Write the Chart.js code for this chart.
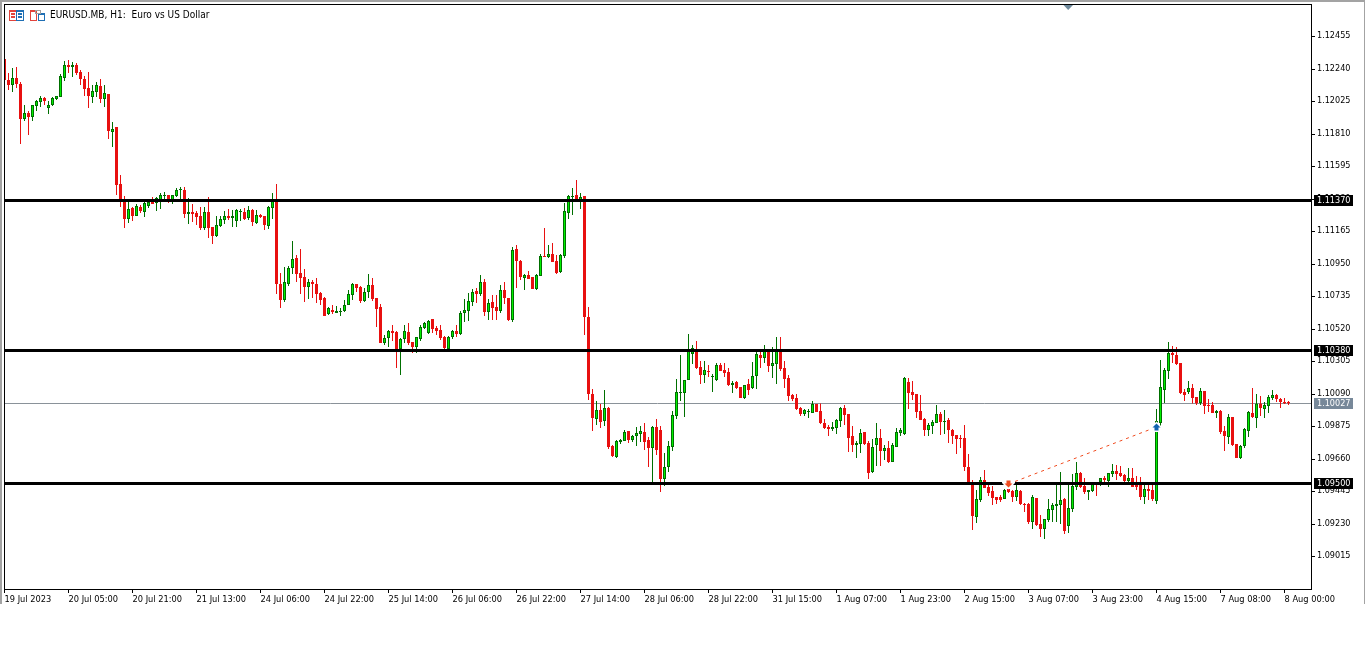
<!DOCTYPE html>
<html>
<head>
<meta charset="utf-8">
<title>EURUSD.MB, H1</title>
<script src="https://cdn.jsdelivr.net/npm/chart.js@4"></script>
<style>
  html, body { margin: 0; padding: 0; background: #fff; }
  canvas { display: block; }
</style>
</head>
<body>
<canvas id="graph" width="1365" height="672"></canvas>
<script>
// hourly bars
const open = [
  1.12303,1.12164,1.12133,1.12177,1.12137,1.11908,1.11946,1.11921,1.11994,1.12020,
  1.12045,1.11981,1.12001,1.12036,1.12054,1.12179,1.12263,1.12252,1.12263,1.12217,
  1.12170,1.12111,1.12054,1.12087,1.12124,1.12040,1.12071,1.11822,1.11853,1.11476,
  1.11370,1.11247,1.11317,1.11266,1.11326,1.11293,1.11330,1.11370,1.11348,1.11370,
  1.11394,1.11401,1.11370,1.11399,1.11434,1.11436,1.11280,1.11291,1.11282,1.11264,
  1.11187,1.11291,1.11189,1.11132,1.11200,1.11238,1.11264,1.11253,1.11233,1.11293,
  1.11291,1.11251,1.11304,1.11220,1.11271,1.11262,1.11198,1.11319,1.11359,1.10818,
  1.10710,1.10814,1.10922,1.10984,1.10887,1.10858,1.10796,1.10827,1.10814,1.10754,
  1.10721,1.10613,1.10642,1.10624,1.10631,1.10635,1.10677,1.10743,1.10814,1.10794,
  1.10701,1.10763,1.10807,1.10721,1.10662,1.10424,1.10457,1.10503,1.10496,1.10384,
  1.10450,1.10496,1.10430,1.10397,1.10450,1.10523,1.10490,1.10582,1.10523,1.10510,
  1.10463,1.10384,1.10465,1.10503,1.10483,1.10622,1.10635,1.10695,1.10768,1.10748,
  1.10827,1.10629,1.10695,1.10662,1.10635,1.10774,1.10721,1.10576,1.11045,1.10966,
  1.10856,1.10873,1.10860,1.10781,1.10869,1.10999,1.10992,1.11012,1.10966,1.10895,
  1.10999,1.11284,1.11389,1.11403,1.11370,1.11394,1.10596,1.10086,1.09921,1.09980,
  1.09908,1.09994,1.09742,1.09669,1.09771,1.09775,1.09841,1.09782,1.09808,1.09822,
  1.09835,1.09782,1.09729,1.09868,1.09848,1.09524,1.09603,1.09736,1.09941,1.10093,
  1.10095,1.10179,1.10351,1.10388,1.10265,1.10212,1.10238,1.10199,1.10179,1.10278,
  1.10245,1.10232,1.10146,1.10166,1.10132,1.10060,1.10152,1.10126,1.10205,1.10344,
  1.10324,1.10377,1.10271,1.10285,1.10377,1.10258,1.10192,1.10080,1.10060,1.09994,
  1.09954,1.09967,1.09961,1.10020,1.09974,1.09894,1.09868,1.09855,1.09861,1.09908,
  1.09994,1.09954,1.09808,1.09749,1.09755,1.09835,1.09762,1.09570,1.09749,1.09795,
  1.09709,1.09729,1.09638,1.09738,1.09828,1.09824,1.10165,1.10099,1.10086,1.09974,
  1.09921,1.09848,1.09874,1.09896,1.09954,1.09901,1.09914,1.09848,1.09815,1.09795,
  1.09795,1.09603,1.09497,1.09272,1.09385,1.09517,1.09471,1.09444,1.09405,1.09405,
  1.09392,1.09458,1.09444,1.09405,1.09444,1.09361,1.09358,1.09239,1.09398,1.09226,
  1.09193,1.09253,1.09319,1.09345,1.09354,1.09392,1.09213,1.09325,1.09471,1.09564,
  1.09478,1.09438,1.09444,1.09491,1.09507,1.09529,1.09513,1.09560,1.09577,1.09562,
  1.09551,1.09513,1.09529,1.09491,1.09485,1.09407,1.09458,1.09452,1.09379,1.09897,
  1.10113,1.10239,1.10360,1.10345,1.10292,1.10100,1.10100,1.10126,1.10067,1.10025,
  1.10106,1.10014,1.10014,1.09961,1.09974,1.09842,1.09804,1.09932,1.09756,1.09663,
  1.09743,1.09844,1.09961,1.09928,1.10027,1.09987,1.10007,1.10060,1.10080,1.10054,
  1.10034,1.10034
];
const close = [
  1.12164,1.12131,1.12177,1.12137,1.11908,1.11943,1.11921,1.11996,1.12023,1.12043,
  1.12027,1.11996,1.12043,1.12056,1.12190,1.12263,1.12252,1.12261,1.12212,1.12170,
  1.12106,1.12058,1.12091,1.12131,1.12040,1.12078,1.11829,1.11840,1.11469,1.11355,
  1.11247,1.11310,1.11264,1.11330,1.11295,1.11350,1.11357,1.11344,1.11383,1.11403,
  1.11401,1.11370,1.11401,1.11436,1.11441,1.11280,1.11291,1.11277,1.11260,1.11187,
  1.11291,1.11185,1.11134,1.11202,1.11244,1.11264,1.11251,1.11264,1.11302,1.11297,
  1.11244,1.11302,1.11224,1.11269,1.11255,1.11205,1.11321,1.11365,1.10816,1.10710,
  1.10825,1.10918,1.10977,1.10882,1.10856,1.10796,1.10825,1.10814,1.10748,1.10708,
  1.10604,1.10653,1.10629,1.10633,1.10635,1.10679,1.10746,1.10812,1.10790,1.10701,
  1.10765,1.10805,1.10715,1.10649,1.10424,1.10457,1.10501,1.10490,1.10377,1.10450,
  1.10501,1.10424,1.10397,1.10461,1.10527,1.10560,1.10569,1.10516,1.10503,1.10457,
  1.10391,1.10463,1.10501,1.10483,1.10626,1.10642,1.10701,1.10761,1.10748,1.10827,
  1.10629,1.10686,1.10655,1.10635,1.10772,1.10721,1.10576,1.11039,1.10966,1.10860,
  1.10871,1.10847,1.10781,1.10871,1.10999,1.10992,1.11012,1.10959,1.10887,1.11006,
  1.11295,1.11394,1.11400,1.11370,1.11387,1.10596,1.10086,1.09927,1.09980,1.09901,
  1.09994,1.09736,1.09676,1.09775,1.09782,1.09835,1.09782,1.09808,1.09828,1.09841,
  1.09769,1.09729,1.09868,1.09716,1.09524,1.09603,1.09742,1.09947,1.10097,1.10099,
  1.10177,1.10377,1.10390,1.10258,1.10212,1.10245,1.10232,1.10205,1.10278,1.10238,
  1.10225,1.10146,1.10159,1.10126,1.10060,1.10144,1.10113,1.10205,1.10351,1.10324,
  1.10384,1.10271,1.10291,1.10377,1.10252,1.10185,1.10073,1.10053,1.09987,1.09954,
  1.09980,1.09974,1.10020,1.09967,1.09894,1.09861,1.09855,1.09868,1.09914,1.09994,
  1.09947,1.09795,1.09749,1.09762,1.09828,1.09755,1.09564,1.09735,1.09795,1.09709,
  1.09729,1.09636,1.09749,1.09835,1.09848,1.10192,1.10093,1.10079,1.09967,1.09914,
  1.09848,1.09881,1.09901,1.09954,1.09901,1.09907,1.09848,1.09808,1.09788,1.09788,
  1.09603,1.09504,1.09279,1.09392,1.09517,1.09464,1.09431,1.09398,1.09385,1.09385,
  1.09455,1.09438,1.09405,1.09451,1.09358,1.09356,1.09239,1.09405,1.09220,1.09193,
  1.09259,1.09325,1.09352,1.09358,1.09385,1.09180,1.09332,1.09478,1.09564,1.09471,
  1.09438,1.09451,1.09491,1.09487,1.09529,1.09518,1.09562,1.09577,1.09560,1.09544,
  1.09511,1.09529,1.09474,1.09474,1.09407,1.09458,1.09447,1.09392,1.09908,1.10133,
  1.10245,1.10356,1.10345,1.10285,1.10093,1.10080,1.10126,1.10060,1.10027,1.10106,
  1.10007,1.10007,1.09961,1.09974,1.09835,1.09809,1.09932,1.09749,1.09663,1.09743,
  1.09855,1.09968,1.09934,1.10027,1.09994,1.10014,1.10067,1.10080,1.10054,1.10034,
  1.10027,1.10027
];
const high = [
  1.12303,1.12212,1.12241,1.12252,1.12151,1.11998,1.11959,1.11996,1.12031,1.12058,
  1.12049,1.12023,1.12049,1.12058,1.12203,1.12289,1.12296,1.12285,1.12278,1.12230,
  1.12190,1.12219,1.12131,1.12148,1.12168,1.12133,1.12071,1.11888,1.11855,1.11535,
  1.11396,1.11359,1.11321,1.11344,1.11337,1.11366,1.11370,1.11388,1.11392,1.11414,
  1.11423,1.11405,1.11405,1.11452,1.11458,1.11454,1.11381,1.11344,1.11299,1.11326,
  1.11326,1.11392,1.11194,1.11264,1.11264,1.11297,1.11308,1.11304,1.11308,1.11308,
  1.11315,1.11330,1.11308,1.11304,1.11277,1.11264,1.11330,1.11414,1.11475,1.10887,
  1.10924,1.10937,1.11098,1.11006,1.11045,1.10913,1.10847,1.10840,1.10854,1.10761,
  1.10726,1.10662,1.10675,1.10668,1.10653,1.10708,1.10772,1.10821,1.10814,1.10801,
  1.10787,1.10880,1.10854,1.10721,1.10682,1.10477,1.10510,1.10543,1.10503,1.10457,
  1.10543,1.10556,1.10430,1.10463,1.10543,1.10563,1.10576,1.10582,1.10536,1.10543,
  1.10470,1.10470,1.10510,1.10543,1.10635,1.10715,1.10754,1.10781,1.10787,1.10873,
  1.10847,1.10715,1.10741,1.10741,1.10807,1.10827,1.10721,1.11059,1.11072,1.10973,
  1.10880,1.10900,1.10860,1.10880,1.11012,1.11184,1.11072,1.11085,1.11006,1.11012,
  1.11350,1.11403,1.11449,1.11502,1.11416,1.11396,1.10662,1.10119,1.10040,1.10020,
  1.10113,1.10000,1.09749,1.09782,1.09789,1.09848,1.09841,1.09815,1.09868,1.09875,
  1.09894,1.09802,1.09875,1.09921,1.09875,1.09696,1.09775,1.09974,1.10185,1.10344,
  1.10179,1.10483,1.10410,1.10437,1.10304,1.10304,1.10278,1.10218,1.10289,1.10291,
  1.10291,1.10258,1.10172,1.10172,1.10132,1.10146,1.10185,1.10298,1.10371,1.10364,
  1.10410,1.10377,1.10397,1.10463,1.10463,1.10304,1.10212,1.10086,1.10086,1.10000,
  1.09987,1.09987,1.10040,1.10020,1.10027,1.09921,1.09881,1.09901,1.09921,1.10000,
  1.10013,1.09954,1.09875,1.09775,1.09855,1.09835,1.09775,1.09788,1.09894,1.09855,
  1.09749,1.09775,1.09762,1.09861,1.09861,1.10199,1.10192,1.10172,1.10086,1.10079,
  1.09927,1.09894,1.09914,1.10013,1.09967,1.09980,1.09927,1.09855,1.09815,1.09815,
  1.09881,1.09689,1.09517,1.09451,1.09537,1.09583,1.09484,1.09478,1.09405,1.09418,
  1.09458,1.09478,1.09451,1.09484,1.09451,1.09365,1.09365,1.09418,1.09398,1.09286,
  1.09259,1.09392,1.09365,1.09497,1.09570,1.09398,1.09491,1.09557,1.09636,1.09570,
  1.09530,1.09451,1.09504,1.09502,1.09529,1.09544,1.09566,1.09624,1.09617,1.09613,
  1.09557,1.09597,1.09597,1.09544,1.09538,1.09491,1.09491,1.09491,1.09987,1.10312,
  1.10256,1.10431,1.10404,1.10398,1.10292,1.10120,1.10173,1.10153,1.10067,1.10126,
  1.10106,1.10054,1.10034,1.09981,1.09981,1.09875,1.09954,1.09932,1.09756,1.09749,
  1.09862,1.09974,1.10126,1.10087,1.10073,1.10034,1.10080,1.10113,1.10087,1.10058,
  1.10058,1.10043
];
const low = [
  1.12164,1.12098,1.12087,1.12109,1.11740,1.11895,1.11800,1.11890,1.11957,1.11987,
  1.11998,1.11939,1.11992,1.12031,1.12049,1.12157,1.12212,1.12181,1.12197,1.12131,
  1.12058,1.11979,1.12009,1.12049,1.12009,1.11987,1.11774,1.11723,1.11403,1.11321,
  1.11187,1.11220,1.11233,1.11264,1.11286,1.11260,1.11315,1.11344,1.11297,1.11310,
  1.11366,1.11348,1.11344,1.11392,1.11370,1.11249,1.11211,1.11227,1.11205,1.11172,
  1.11172,1.11121,1.11079,1.11123,1.11194,1.11211,1.11238,1.11194,1.11194,1.11233,
  1.11238,1.11238,1.11198,1.11211,1.11249,1.11172,1.11176,1.11242,1.10748,1.10655,
  1.10695,1.10801,1.10880,1.10827,1.10748,1.10695,1.10715,1.10721,1.10688,1.10675,
  1.10602,1.10609,1.10615,1.10622,1.10602,1.10629,1.10675,1.10708,1.10761,1.10688,
  1.10695,1.10721,1.10701,1.10529,1.10424,1.10410,1.10397,1.10437,1.10258,1.10212,
  1.10424,1.10410,1.10357,1.10357,1.10437,1.10516,1.10483,1.10490,1.10477,1.10443,
  1.10384,1.10384,1.10450,1.10463,1.10477,1.10563,1.10569,1.10668,1.10688,1.10735,
  1.10602,1.10576,1.10576,1.10576,1.10622,1.10682,1.10569,1.10563,1.10787,1.10840,
  1.10774,1.10847,1.10781,1.10774,1.10867,1.10992,1.10986,1.10959,1.10880,1.10887,
  1.10986,1.11244,1.11270,1.11370,1.11310,1.10477,1.10047,1.09841,1.09881,1.09861,
  1.09875,1.09722,1.09669,1.09663,1.09755,1.09775,1.09762,1.09769,1.09742,1.09769,
  1.09716,1.09603,1.09506,1.09683,1.09438,1.09478,1.09570,1.09709,1.09921,1.10040,
  1.09934,1.10179,1.10285,1.10252,1.10152,1.10159,1.10199,1.10099,1.10172,1.10238,
  1.10199,1.10139,1.10093,1.10119,1.10060,1.10053,1.10080,1.10119,1.10119,1.10258,
  1.10291,1.10232,1.10192,1.10152,1.10238,1.10126,1.10040,1.10040,1.09980,1.09941,
  1.09941,1.09927,1.09961,1.09967,1.09888,1.09855,1.09808,1.09841,1.09822,1.09868,
  1.09881,1.09703,1.09703,1.09663,1.09696,1.09749,1.09524,1.09564,1.09610,1.09610,
  1.09649,1.09630,1.09636,1.09735,1.09808,1.09815,1.09987,1.10046,1.09927,1.09914,
  1.09808,1.09808,1.09821,1.09894,1.09815,1.09821,1.09762,1.09755,1.09689,1.09729,
  1.09577,1.09504,1.09186,1.09233,1.09372,1.09464,1.09411,1.09352,1.09358,1.09372,
  1.09392,1.09431,1.09372,1.09378,1.09352,1.09306,1.09226,1.09193,1.09213,1.09140,
  1.09127,1.09239,1.09239,1.09239,1.09226,1.09160,1.09167,1.09306,1.09451,1.09464,
  1.09425,1.09385,1.09438,1.09412,1.09478,1.09491,1.09474,1.09540,1.09518,1.09535,
  1.09491,1.09485,1.09469,1.09452,1.09385,1.09359,1.09385,1.09379,1.09359,1.09871,
  1.10025,1.10186,1.10292,1.10278,1.10087,1.10040,1.10087,1.10027,1.10014,1.10014,
  1.09954,1.09970,1.09959,1.09926,1.09822,1.09710,1.09756,1.09743,1.09663,1.09657,
  1.09727,1.09804,1.09928,1.09862,1.09941,1.09928,1.09961,1.10047,1.10034,1.09994,
  1.10020,1.10014
];

const xTickBars = [0,16,32,48,64,80,96,112,128,144,160,176,192,208,224,240,256,272,288,304,320];
const xTickLabels = ['19 Jul 2023','20 Jul 05:00','20 Jul 21:00','21 Jul 13:00','24 Jul 06:00','24 Jul 22:00',
  '25 Jul 14:00','26 Jul 06:00','26 Jul 22:00','27 Jul 14:00','28 Jul 06:00','28 Jul 22:00','31 Jul 15:00',
  '1 Aug 07:00','1 Aug 23:00','2 Aug 15:00','3 Aug 07:00','3 Aug 23:00','4 Aug 15:00','7 Aug 08:00','8 Aug 00:00'];
const yTicks = [1.12455,1.12240,1.12025,1.11810,1.11595,1.11380,1.11165,1.10950,1.10735,1.10520,
  1.10305,1.10090,1.09875,1.09660,1.09445,1.09230,1.09015];

const levels = [1.11370, 1.10380, 1.09500];
const lastPrice = 1.10027;
const tradeBars = [251, 288];
const tradePrices = [1.09491, 1.09868];

const xMin = -0.125, xMax = 326.625, yMin = 1.08797, yMax = 1.12667;
const FAMILY = '"DejaVu Sans Condensed", "DejaVu Sans", sans-serif';
const UP_FILL = '#00f000', UP_LINE = '#006f00', DOWN = '#e81010', TRADE = '#f04a1e';
const ICON_RED = '#e2443c', ICON_BLUE = '#1f6fb4';

const bars = open.map((_, i) => i);
const isUp = i => close[i] >= open[i];

// small arrow glyphs with the white halo, used as point styles
function arrowIcon(color, down) {
  const c = document.createElement('canvas');
  c.width = 13; c.height = 14;
  const g = c.getContext('2d');
  if (down) { g.translate(0, 14); g.scale(1, -1); }
  g.beginPath();
  g.moveTo(6.5, 3.5); g.lineTo(10.5, 7.5); g.lineTo(8.5, 7.5); g.lineTo(8.5, 10.5);
  g.lineTo(4.5, 10.5); g.lineTo(4.5, 7.5); g.lineTo(2.5, 7.5); g.closePath();
  g.strokeStyle = '#fff'; g.lineWidth = 3; g.stroke();
  g.fillStyle = color; g.fill();
  return c;
}

function snapPixels(scale) {
  if (scale.snapped) return;
  scale.snapped = true;
  const orig = scale.getPixelForValue.bind(scale);
  scale.getPixelForValue = v => {
    const p = Math.round(orig(v));
    return (levels.includes(v) || v === lastPrice) ? p + 0.5 : p;
  };
}

function priceBox(ctx, scale, value, fill) {
  const y = Math.round(scale.getPixelForValue(value) - 0.5);
  ctx.fillStyle = fill;
  ctx.fillRect(1314, y - 5, 39, 11);
  ctx.fillStyle = '#fff';
  ctx.textAlign = 'left';
  ctx.textBaseline = 'middle';
  ctx.fillText(value.toFixed(5), 1317, y + 0.5);
}

const terminalFrame = {
  id: 'terminalFrame',
  beforeDraw(chart) {
    const ctx = chart.ctx;
    ctx.fillStyle = '#a3a3a3';
    ctx.fillRect(0, 0, 1365, 2);
    ctx.fillRect(0, 0, 2, 604);
    ctx.fillRect(1364, 0, 1, 604);
  },
  afterDraw(chart) {
    const ctx = chart.ctx, y = chart.scales.y;
    ctx.save();
    ctx.fillStyle = '#000';
    ctx.fillRect(4, 4, 1308, 1);
    ctx.fillRect(4, 4, 1, 585);
    ctx.font = '9px ' + FAMILY;
    levels.forEach(l => priceBox(ctx, y, l, '#000'));
    priceBox(ctx, y, lastPrice, '#778899');

    // title and the two toolbar icons
    ctx.fillStyle = '#000';
    ctx.textAlign = 'left';
    ctx.textBaseline = 'middle';
    ctx.font = '10px ' + FAMILY;
    ctx.fillText('EURUSD.MB, H1:  Euro vs US Dollar', 50, 15.5);
    ctx.lineWidth = 1;
    ctx.strokeStyle = ICON_RED;
    ctx.strokeRect(9.5, 10.5, 7, 10);
    ctx.strokeRect(30.5, 10.5, 6, 10);
    ctx.strokeStyle = ICON_BLUE;
    ctx.strokeRect(16.5, 10.5, 7, 10);
    ctx.strokeRect(38.5, 13.5, 6, 7);
    ctx.fillStyle = ICON_RED;
    ctx.fillRect(9, 10, 8, 2); ctx.fillRect(30, 10, 7, 2);
    ctx.fillRect(11, 13, 4, 2); ctx.fillRect(11, 16, 4, 2);
    ctx.fillStyle = ICON_BLUE;
    ctx.fillRect(16, 10, 8, 2); ctx.fillRect(38, 13, 7, 2);
    ctx.fillRect(18, 13, 4, 2); ctx.fillRect(18, 16, 4, 2);
    ctx.strokeStyle = '#a0a0a0';
    ctx.strokeRect(35.5, 10.5, 5, 3);

    // chart shift marker on the top edge
    ctx.fillStyle = '#6f8a9c';
    ctx.beginPath();
    ctx.moveTo(1063.5, 5); ctx.lineTo(1073, 5); ctx.lineTo(1068.2, 10);
    ctx.closePath();
    ctx.fill();
    ctx.restore();
  }
};

const hLine = (value, color, width, order) => ({
  type: 'line',
  data: [{ x: xMin, y: value }, { x: xMax, y: value }],
  borderColor: color,
  borderWidth: width,
  pointRadius: 0,
  order
});

new Chart(document.getElementById('graph').getContext('2d'), {
  type: 'bar',
  data: {
    datasets: [
      {
        label: 'wicks',
        data: bars.map(i => ({ x: i, y: [low[i], high[i]] })),
        backgroundColor: bars.map(i => isUp(i) ? UP_LINE : DOWN),
        barThickness: 1,
        inflateAmount: 0,
        order: 5
      },
      {
        label: 'bodies',
        data: bars.map(i => ({ x: i, y: [open[i], close[i]] })),
        backgroundColor: bars.map(i => isUp(i) ? UP_FILL : DOWN),
        borderColor: bars.map(i => isUp(i) ? UP_LINE : DOWN),
        borderWidth: 1,
        borderSkipped: false,
        barThickness: 3,
        minBarLength: 1,
        inflateAmount: 0,
        order: 4
      },
      hLine(lastPrice, '#8a9299', 1, 6),
      ...levels.map(l => hLine(l, '#000', 3, 2)),
      {
        type: 'line',
        label: 'trade',
        data: tradeBars.map((b, i) => ({ x: b, y: tradePrices[i] })),
        borderColor: TRADE,
        borderWidth: 1,
        borderDash: [3, 4],
        pointStyle: [arrowIcon(TRADE, true), arrowIcon('#0f62b0', false)],
        pointRadius: 4,
        order: 1
      }
    ]
  },
  options: {
    responsive: false,
    animation: false,
    devicePixelRatio: 1,
    grouped: false,
    layout: { autoPadding: false, padding: { left: 4, top: 4, right: 0, bottom: 0 } },
    plugins: { legend: { display: false }, tooltip: { enabled: false } },
    scales: {
      x: {
        type: 'linear',
        min: xMin,
        max: xMax,
        offset: false,
        afterFit: s => { s.height = 83; s.paddingLeft = 0; s.paddingRight = 0; },
        afterBuildTicks: s => { s.ticks = xTickBars.map(v => ({ value: v })); },
        grid: { offset: false, drawOnChartArea: false, color: '#000', tickLength: 4 },
        border: { color: '#000' },
        ticks: {
          autoSkip: false, maxRotation: 0, align: 'start', padding: 1,
          color: '#000', font: { family: FAMILY, size: 9.2 },
          callback: (v, i) => xTickLabels[i]
        }
      },
      y: {
        position: 'right',
        min: yMin,
        max: yMax,
        afterDataLimits: snapPixels,
        afterFit: s => { s.width = 54; s.paddingTop = 0; s.paddingBottom = 0; },
        afterBuildTicks: s => { s.ticks = yTicks.map(v => ({ value: v })); },
        grid: { drawOnChartArea: false, color: '#000', tickLength: 4 },
        border: { color: '#000' },
        ticks: {
          autoSkip: false, padding: 2,
          color: '#000', font: { family: FAMILY, size: 9 },
          callback: v => v.toFixed(5)
        }
      }
    }
  },
  plugins: [terminalFrame]
});
</script>
</body>
</html>
